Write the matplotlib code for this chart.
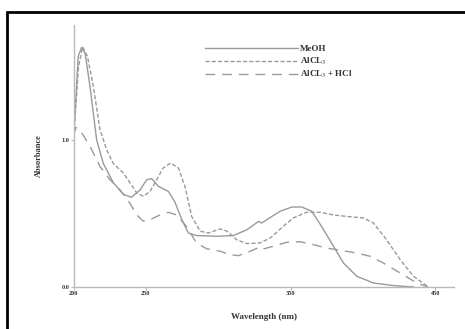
import matplotlib
matplotlib.use("Agg")
import matplotlib.pyplot as plt
from matplotlib.patches import Rectangle

# wavelength (nm) / absorbance
meoh_nm = [200, 203.3, 205.6, 208, 211.4, 216, 220.6, 227.5, 234.5, 240, 246, 250.6, 254,
           258.7, 265.6, 270, 274.8, 279.4, 285, 299, 310.5, 320, 328, 330, 333.6, 342.8,
           351, 357.8, 364.7, 371.6, 379.7, 386.6, 395.8, 407.4, 421, 435]
meoh_abs = [1.0, 1.57, 1.63, 1.59, 1.365, 1.0, 0.84, 0.71, 0.63, 0.61, 0.66, 0.73, 0.737,
            0.685, 0.65, 0.58, 0.46, 0.367, 0.35, 0.345, 0.35, 0.39, 0.447, 0.435, 0.458, 0.515,
            0.544, 0.544, 0.515, 0.41, 0.277, 0.163, 0.073, 0.027, 0.01, 0.0]

alcl3_nm = [200, 203.5, 206.3, 209.6, 213.7, 218.3, 222.9, 227.5, 234.5, 239, 243.7, 248.3,
            252.9, 257.5, 262, 267.2, 272.5, 277, 281.7, 287.5, 293.3, 301.4, 306, 313, 320,
            329, 336, 345, 352, 361, 370.4, 379.7, 388.9, 400.4, 407.3, 416.5, 425.8, 435, 445.3]
alcl3_abs = [1.0, 1.5, 1.633, 1.57, 1.365, 1.07, 0.934, 0.84, 0.775, 0.71, 0.64, 0.617,
             0.65, 0.73, 0.81, 0.843, 0.81, 0.685, 0.48, 0.38, 0.367, 0.395, 0.38, 0.32, 0.295,
             0.3, 0.333, 0.413, 0.47, 0.508, 0.508, 0.49, 0.48, 0.47, 0.435, 0.32, 0.186, 0.073, 0.0]

hcl_nm = [200, 201.7, 205.6, 211.4, 218.3, 225.2, 232.2, 239, 243.7, 248.3, 252.9, 259.8,
          265.6, 271.3, 278.2, 285, 292, 301.4, 308, 314, 322, 329, 331, 338, 347.3, 356.6,
          365.8, 375, 384.2, 395.8, 405, 414.2, 425.8, 437.3, 445]
hcl_abs = [1.03, 1.086, 1.05, 0.957, 0.82, 0.73, 0.66, 0.57, 0.49, 0.447, 0.458, 0.49,
           0.508, 0.49, 0.41, 0.3, 0.26, 0.243, 0.22, 0.213, 0.243, 0.272, 0.258, 0.277, 0.304, 0.308,
           0.288, 0.265, 0.25, 0.231, 0.209, 0.163, 0.095, 0.027, 0.0]

x_ticks = [200, 250, 350, 450]
y_ticks = [0.0, 1.0]

plt.rcParams['font.family'] = ['Liberation Serif', 'DejaVu Serif']
plt.rcParams['mathtext.fontset'] = 'stix'

fig = plt.figure(figsize=(4.65, 3.29), dpi=100)
fig.patch.set_facecolor('white')
ax = fig.add_axes([73.5 / 465, 42 / 329, 380.5 / 465, 262 / 329])

line_col = '#9a9a9a'
ax.plot(meoh_nm, meoh_abs, color=line_col, lw=1.0, label='MeOH')
ax.plot(alcl3_nm, alcl3_abs, color=line_col, lw=1.0, dashes=(3, 1.5), label='AlCL$_3$')
ax.plot(hcl_nm, hcl_abs, color=line_col, lw=1.0, dashes=(7, 5), label='AlCL$_3$ + HCl')

ax.set_xlim(200, 463)
ax.set_ylim(0, 1.782)
for s in ['top', 'right']:
    ax.spines[s].set_visible(False)
for s in ['left', 'bottom']:
    ax.spines[s].set_color('#b8b8b8')
    ax.spines[s].set_linewidth(1.0)

ax.set_xticks(x_ticks)
ax.set_xticklabels([str(t) for t in x_ticks])
ax.set_yticks(y_ticks)
ax.set_yticklabels(['%.1f' % t for t in y_ticks])
ax.tick_params(axis='both', labelsize=4.5, colors='#b8b8b8', labelcolor='#333333',
               length=2, width=0.8, pad=1)
for lab in ax.get_xticklabels() + ax.get_yticklabels():
    lab.set_fontweight('bold')

ax.set_xlabel('Wavelength (nm)', fontsize=6.5, fontweight='bold', color='#333333', labelpad=12)
ax.set_ylabel('Absorbance', fontsize=6, fontweight='bold', color='#333333', labelpad=13)

leg = ax.legend(loc='upper left', bbox_to_anchor=(0.335, 0.937), frameon=False,
                handlelength=10.3, handletextpad=0.3, labelspacing=0.25, fontsize=6.5,
                borderaxespad=0)
for t in leg.get_texts():
    t.set_fontweight('bold')
    t.set_color('#333333')

# black frame around the figure (only top/left visible in the crop)
fig.add_artist(Rectangle((6.5 / 465, -0.1), 1.2, 1.1 - 12.5 / 329, transform=fig.transFigure,
                         fill=False, edgecolor='black', lw=2.0, clip_on=False))

fig.savefig('out.png', dpi=100)
